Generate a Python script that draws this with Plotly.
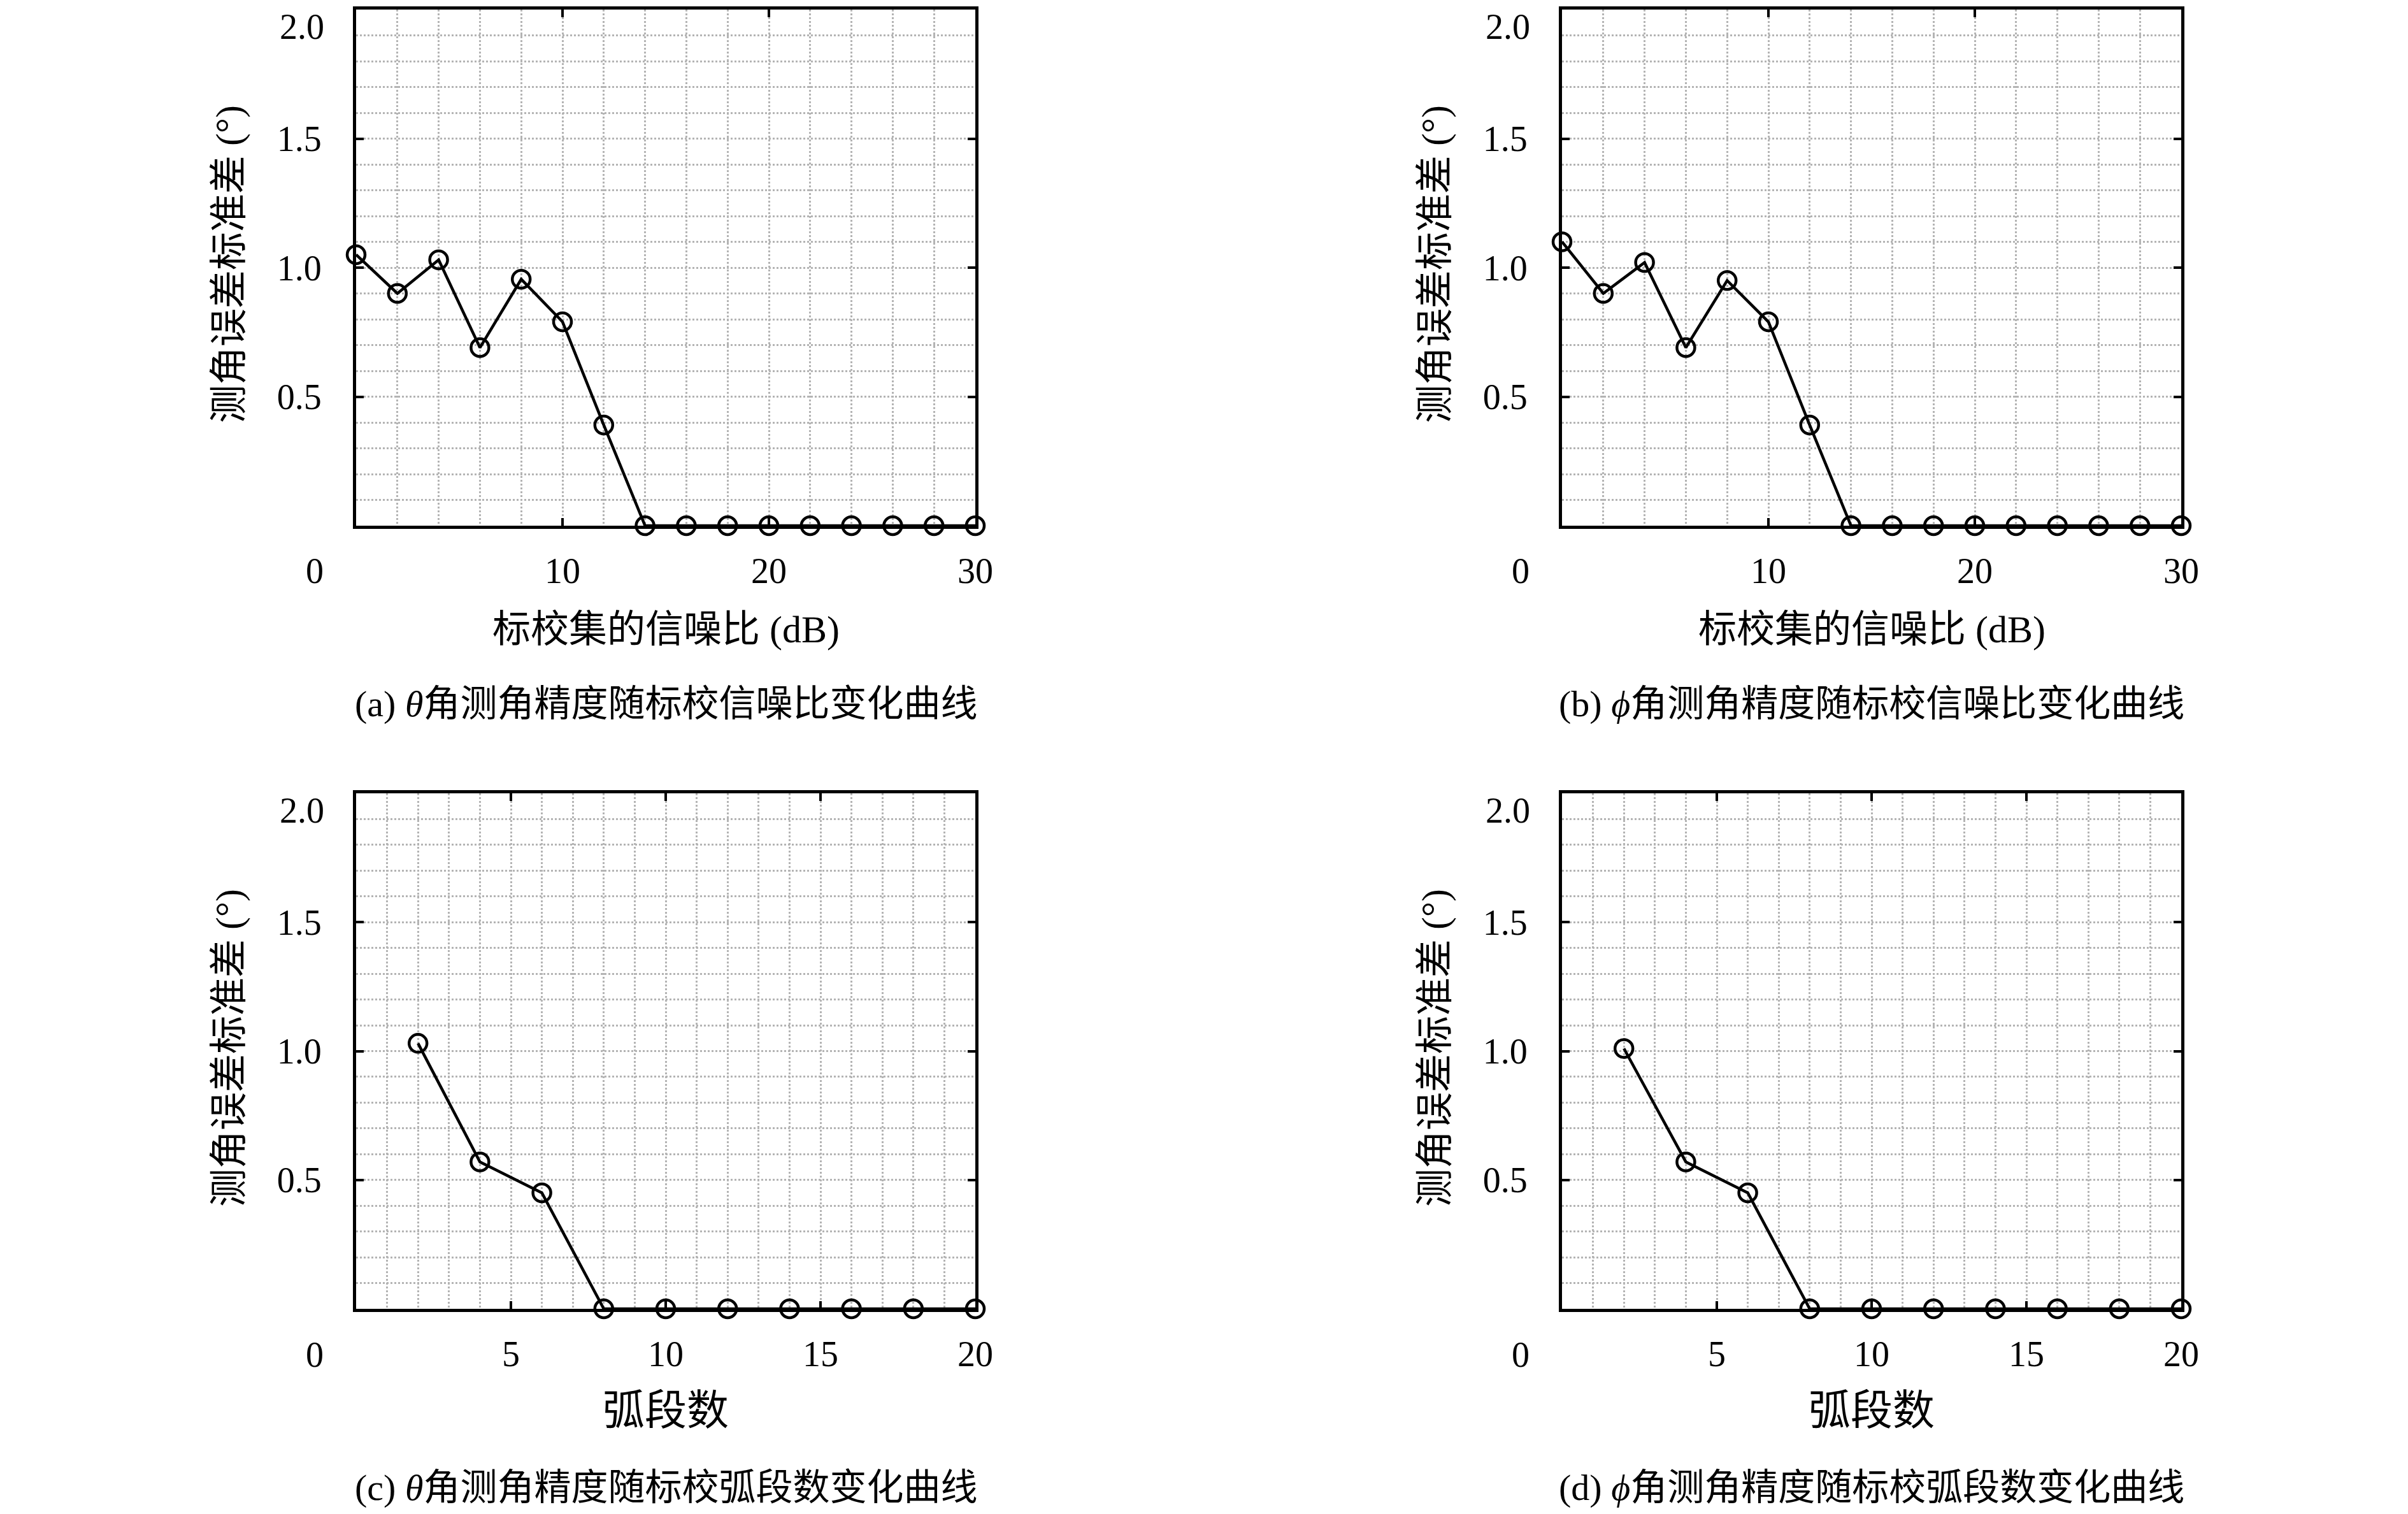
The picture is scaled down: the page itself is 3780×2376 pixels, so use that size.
import plotly.graph_objects as go
from plotly.subplots import make_subplots

# ---- data ----
snr_db = [0, 2, 4, 6, 8, 10, 12, 14, 16, 18, 20, 22, 24, 26, 28, 30]
theta_std_snr = [1.05, 0.90, 1.03, 0.69, 0.955, 0.79, 0.39, 0, 0, 0, 0, 0, 0, 0, 0, 0]
phi_std_snr = [1.10, 0.90, 1.02, 0.69, 0.95, 0.79, 0.39, 0, 0, 0, 0, 0, 0, 0, 0, 0]

arc_segments = [2, 4, 6, 8, 10, 12, 14, 16, 18, 20]
theta_std_arc = [1.03, 0.57, 0.45, 0, 0, 0, 0, 0, 0, 0]
phi_std_arc = [1.01, 0.57, 0.45, 0, 0, 0, 0, 0, 0, 0]

y_ticks = [0.5, 1.0, 1.5, 2.0]
y_ticktext = ["0.5", "1.0", "1.5", ""]   # top label "2.0" drawn separately, kept inside the page
y_top_label = "2.0"
x_ticks_snr = [10, 20, 30]
x_ticks_arc = [5, 10, 15, 20]

y_title = "测角误差标准差 (°)"
x_title_snr = "标校集的信噪比 (dB)"
x_title_arc = "弧段数"
captions = [
    "(a) <i>θ</i>角测角精度随标校信噪比变化曲线",
    "(b) <i>ϕ</i>角测角精度随标校信噪比变化曲线",
    "(c) <i>θ</i>角测角精度随标校弧段数变化曲线",
    "(d) <i>ϕ</i>角测角精度随标校弧段数变化曲线",
]

W, H = 3780, 2376
OFF = 8  # default body margin of the html page
FW, FH = W - 2 * OFF, H - 2 * OFF
FONT = "Liberation Serif, 'Noto Sans CJK SC', serif"


def px(x):
    return (x - OFF) / FW


def py(y):
    return 1 - (y - OFF) / FH


# plot-area pixel boxes in page coordinates (left, right, top, bottom)
col_x = [(559, 1531), (2452, 3424)]
row_y = [(15, 825), (1245, 2054)]

fig = make_subplots(rows=2, cols=2)

panels = [
    (1, 1, snr_db, theta_std_snr, x_ticks_snr, 30, 2, x_title_snr, 60),
    (1, 2, snr_db, phi_std_snr, x_ticks_snr, 30, 2, x_title_snr, 60),
    (2, 1, arc_segments, theta_std_arc, x_ticks_arc, 20, 1, x_title_arc, 66),
    (2, 2, arc_segments, phi_std_arc, x_ticks_arc, 20, 1, x_title_arc, 66),
]

grid_col = "#b4b4b4"
annotations = []
for i, (r, c, xs, ys, xt, xmax, xminor, xtitle, xtsize) in enumerate(panels):
    fig.add_trace(
        go.Scatter(
            x=xs, y=ys, mode="lines+markers",
            line=dict(color="black", width=4.5),
            marker=dict(symbol="circle-open", size=28, color="black",
                        line=dict(color="black", width=4.5)),
            cliponaxis=False, showlegend=False,
        ),
        row=r, col=c,
    )
    l, rr = col_x[c - 1]
    t, b = row_y[r - 1]
    common = dict(
        showline=True, linecolor="black", linewidth=5, mirror="ticks",
        ticks="inside", ticklen=12, tickwidth=4, tickcolor="black",
        showgrid=True, gridcolor=grid_col, gridwidth=3, griddash="dot",
        zeroline=False, automargin=False, ticklabeloverflow="allow",
        tickfont=dict(family=FONT, size=56, color="black"),
    )
    fig.update_xaxes(
        domain=[px(l), px(rr)], range=[0, xmax], tickvals=xt,
        ticklabelstandoff=18,
        minor=dict(dtick=xminor, tick0=0, showgrid=True, gridcolor=grid_col,
                   gridwidth=3, griddash="dot", ticks=""),
        row=r, col=c, **common,
    )
    fig.update_yaxes(
        domain=[py(b), py(t)], range=[0, 2.0], tickvals=y_ticks,
        ticktext=y_ticktext, ticklabelstandoff=38,
        minor=dict(dtick=0.1, tick0=0, showgrid=True, gridcolor=grid_col,
                   gridwidth=3, griddash="dot", ticks=""),
        row=r, col=c, **common,
    )
    cx = (l + rr) / 2
    # top y label "2.0" (box top kept inside the page)
    annotations.append(dict(
        text=y_top_label, x=px(l - 49), y=py(t - 7 + 2),
        xref="paper", yref="paper", xanchor="right", yanchor="top",
        borderpad=0,
        showarrow=False, font=dict(family=FONT, size=56, color="black")))
    # corner "0" label
    annotations.append(dict(
        text="0", x=px(l - 49), y=py(896 if r == 1 else 2126),
        xref="paper", yref="paper", xanchor="right", yanchor="middle",
        showarrow=False, font=dict(family=FONT, size=56, color="black")))
    # y title
    annotations.append(dict(
        text=y_title, x=px(l - 199), y=py(t + 400),
        xref="paper", yref="paper", xanchor="center", yanchor="middle",
        textangle=-90, showarrow=False,
        font=dict(family=FONT, size=60, color="black")))
    # x title
    xty = 988 if r == 1 else 2213
    annotations.append(dict(
        text=xtitle, x=px(cx), y=py(xty),
        xref="paper", yref="paper", xanchor="center", yanchor="middle",
        showarrow=False, font=dict(family=FONT, size=xtsize, color="black")))
    # caption
    cy = 1104 if r == 1 else 2334
    annotations.append(dict(
        text=captions[i], x=px(cx), y=py(cy),
        xref="paper", yref="paper", xanchor="center", yanchor="middle",
        showarrow=False, font=dict(family=FONT, size=58, color="black")))

fig.update_layout(
    width=FW, height=FH,
    margin=dict(l=0, r=0, t=0, b=0, autoexpand=False),
    paper_bgcolor="white", plot_bgcolor="white",
    showlegend=False,
    annotations=annotations,
    font=dict(family=FONT, color="black"),
)

fig.write_html("out.html")
